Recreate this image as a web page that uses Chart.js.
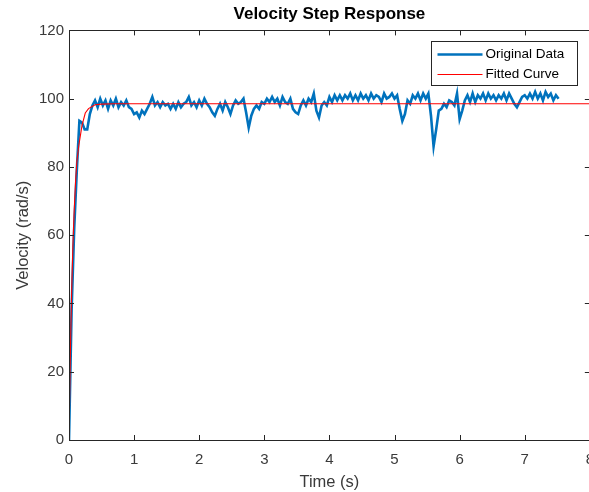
<!DOCTYPE html>
<html>
<head>
<meta charset="utf-8">
<title>Velocity Step Response</title>
<script src="https://cdn.jsdelivr.net/npm/chart.js@4.4.1/dist/chart.umd.min.js"></script>
<style>
  html, body { margin: 0; padding: 0; background: #fff; overflow: hidden; }
  #wrap { width: 605px; height: 492px; }
</style>
</head>
<body>
<div id="wrap"><canvas id="velChart" width="605" height="492"></canvas></div>
<script>
// ===== Datos =====
const sampleStep = 0.04; // s entre muestras
const velocityMeasured = [
  0, 38, 62, 79, 93.5,
  93, 91, 91, 95.5, 98,
  99.5, 97.5, 100, 98, 99.5,
  97, 99.5, 98, 100, 97.5,
  99, 98, 99.5, 97.5, 97,
  95.5, 96, 94.5, 96.5, 95.5,
  97, 98.5, 100.5, 98, 99,
  97.5, 99, 98, 98.5, 97,
  98.5, 97, 99, 97.5, 98.5,
  99, 100.5, 98, 99, 97.5,
  99.5, 98, 100, 98.5, 97.5,
  96, 95, 97, 98.5, 96.5,
  99, 97.5, 95.5, 98, 99.5,
  98.5, 99, 100, 96, 91.5,
  95, 97, 98, 97, 99,
  98.5, 100, 99, 100.5, 99,
  100, 98, 100.5, 99, 98.5,
  100, 97, 96, 95.5, 98,
  99.5, 98, 100, 99, 101.5,
  96.5, 94.5, 98, 99, 98,
  100.5, 99, 101, 99.5, 101,
  99.5, 101, 100, 101.5, 99.5,
  101, 99.5, 101.5, 100, 101,
  99.5, 101.5, 100, 101, 100.5,
  99, 101.5, 100, 100.5, 101.5,
  100, 101, 97, 93.5, 95.5,
  99.5, 98.5, 101, 100, 101.5,
  99.5, 101.5, 100, 101.5, 95,
  86, 91, 96.5, 97, 98.5,
  97.5, 99.5, 99, 98, 101.5,
  94, 96.5, 99.5, 101, 99,
  101.5, 99, 101, 100, 101.5,
  99.5, 101.5, 100, 101, 99.5,
  101, 100, 101.5, 99.5, 101.5,
  100, 98.5, 97.5, 99, 100.5,
  101, 100, 101.5, 100, 102,
  100, 101.5, 99.5, 102, 100.5,
  101.5, 99.5, 101, 100
];

const fitTime = [0, 0.02, 0.04, 0.06, 0.08, 0.1, 0.12, 0.15, 0.2, 0.25, 0.3, 0.4, 0.5, 0.7, 8];
const fitVelocity = [0, 24.4, 42.9, 56.9, 67.4, 75.4, 81.4, 86.2, 92.2, 95.8, 97.1, 98.2, 98.4, 98.5, 98.5];

const xTicks = [0, 1, 2, 3, 4, 5, 6, 7, 8];
const yTicks = [0, 20, 40, 60, 80, 100, 120];

const seriesNames = ["Original Data", "Fitted Curve"];
const seriesColors = ["#0072BD", "#FF0000"];

// ===== Estilo =====
const AXIS_COLOR = "#262626";
const TEXT_COLOR = "#3a3a3a";
const FONT = "'Liberation Sans', Arial, Helvetica, sans-serif";

const measuredPts = velocityMeasured.map((v, i) => ({ x: +(i * sampleStep).toFixed(2), y: v }));
const fitPts = fitTime.map((t, i) => ({ x: t, y: fitVelocity[i] }));

// ejes tipo MATLAB: caja, marcas hacia adentro y leyenda con borde
const matlabAxes = {
  id: "matlabAxes",
  afterDraw(chart) {
    const { ctx, chartArea: a, scales } = chart;
    const tl = 5;
    ctx.save();
    ctx.strokeStyle = AXIS_COLOR;
    ctx.lineWidth = 1;
    ctx.beginPath();
    xTicks.forEach((t) => {
      const px = Math.round(scales.x.getPixelForValue(t)) + 0.5;
      ctx.moveTo(px, a.bottom); ctx.lineTo(px, a.bottom - tl);
      ctx.moveTo(px, a.top); ctx.lineTo(px, a.top + tl);
    });
    yTicks.forEach((t) => {
      const py = Math.round(scales.y.getPixelForValue(t)) + 0.5;
      ctx.moveTo(a.left, py); ctx.lineTo(a.left + tl, py);
      ctx.moveTo(a.right, py); ctx.lineTo(a.right - tl, py);
    });
    ctx.stroke();
    ctx.strokeRect(Math.round(a.left) + 0.5, Math.round(a.top) + 0.5,
      Math.round(a.right - a.left), Math.round(a.bottom - a.top));

    // leyenda
    const bw = 146, bh = 44;
    const bx = Math.round(a.right - 13 - bw) + 0.5;
    const by = Math.round(a.top + 11) + 0.5;
    ctx.fillStyle = "#fff";
    ctx.fillRect(bx, by, bw, bh);
    ctx.strokeStyle = AXIS_COLOR;
    ctx.strokeRect(bx, by, bw, bh);
    ctx.font = "13.5px " + FONT;
    ctx.textBaseline = "middle";
    ctx.textAlign = "left";
    const widths = [2.6, 1];
    seriesNames.forEach((name, i) => {
      const yy = Math.round(by + 12 + i * 20) + 0.5;
      ctx.strokeStyle = seriesColors[i];
      ctx.lineWidth = widths[i];
      ctx.beginPath();
      ctx.moveTo(bx + 6, yy); ctx.lineTo(bx + 51, yy);
      ctx.stroke();
      ctx.fillStyle = "#000";
      ctx.fillText(name, bx + 54, yy);
    });
    ctx.restore();
  },
};

new Chart(document.getElementById("velChart"), {
  type: "line",
  data: {
    datasets: [
      {
        label: seriesNames[0],
        data: measuredPts,
        borderColor: seriesColors[0],
        borderWidth: 2.6,
        pointRadius: 0,
        tension: 0,
        order: 1,
      },
      {
        label: seriesNames[1],
        data: fitPts,
        borderColor: seriesColors[1],
        borderWidth: 1.1,
        pointRadius: 0,
        tension: 0,
        order: 0,
      },
    ],
  },
  options: {
    responsive: false,
    animation: false,
    layout: { padding: { top: 2, right: 10, left: 0, bottom: 0 } },
    plugins: {
      legend: { display: false },
      tooltip: { enabled: false },
      title: {
        display: true,
        text: "Velocity Step Response",
        fullSize: false,
        color: "#000",
        font: { family: FONT, size: 17, weight: "bold" },
        padding: { top: 2, bottom: 6 },
      },
    },
    scales: {
      x: {
        type: "linear",
        min: 0,
        max: 8,
        grid: { display: false, drawTicks: false },
        border: { display: false },
        ticks: {
          stepSize: 1,
          maxRotation: 0,
          color: TEXT_COLOR,
          font: { family: FONT, size: 15 },
          padding: 11,
        },
        title: {
          display: true,
          text: "Time (s)",
          color: TEXT_COLOR,
          font: { family: FONT, size: 16.5 },
          padding: { top: 6, bottom: 0 },
        },
        afterFit: (s) => { s.height = 52; },
      },
      y: {
        min: 0,
        max: 120,
        grid: { display: false, drawTicks: false },
        border: { display: false },
        ticks: {
          stepSize: 20,
          color: TEXT_COLOR,
          font: { family: FONT, size: 15 },
          padding: 5,
        },
        title: {
          display: true,
          text: "Velocity (rad/s)",
          color: TEXT_COLOR,
          font: { family: FONT, size: 16.5 },
          padding: { top: 14, bottom: 0 },
        },
        afterFit: (s) => { s.width = 69; },
      },
    },
  },
  plugins: [matlabAxes],
});
</script>
</body>
</html>
